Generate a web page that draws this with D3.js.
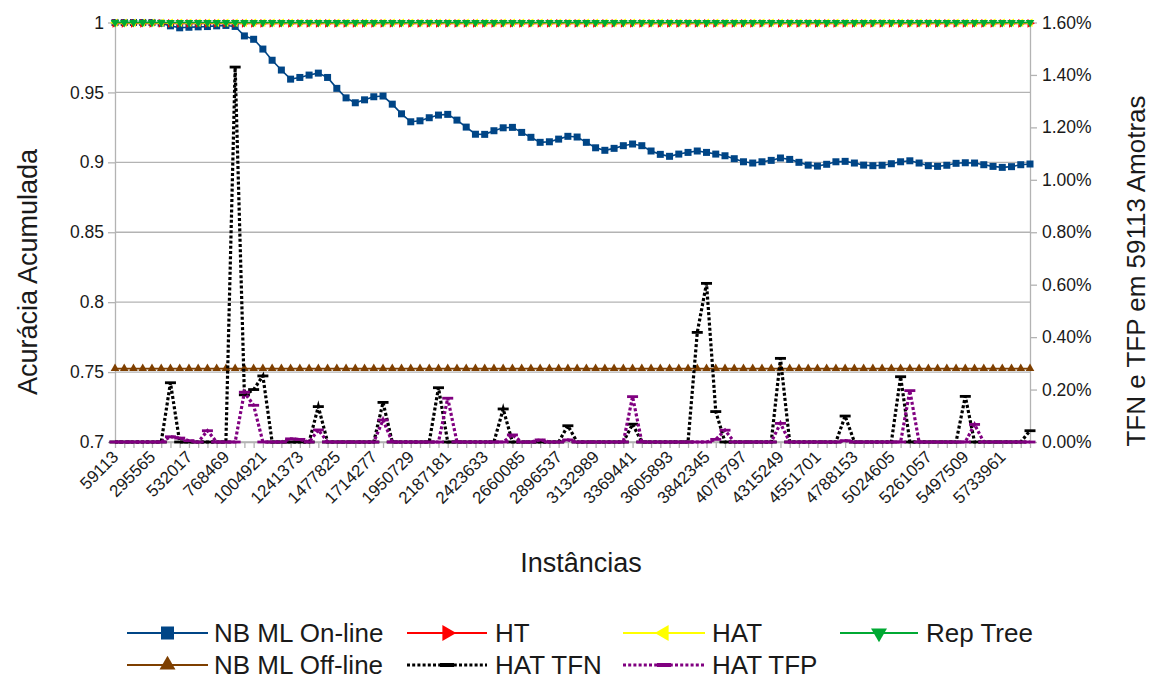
<!DOCTYPE html>
<html>
<head>
<meta charset="utf-8">
<script src="https://cdn.jsdelivr.net/npm/d3@7"></script>
<style>
  body { margin: 0; background: #fff; }
  text { font-family: "Liberation Sans", Arial, sans-serif; fill: #1a1a1a; }
</style>
</head>
<body>
<svg id="chart" width="1153" height="680"></svg>
<script>
// Instance counts (category axis)
const instances = [
  59113,118226,177339,236452,295565,354678,413791,472904,532017,591130,
  650243,709356,768469,827582,886695,945808,1004921,1064034,1123147,1182260,
  1241373,1300486,1359599,1418712,1477825,1536938,1596051,1655164,1714277,1773390,
  1832503,1891616,1950729,2009842,2068955,2128068,2187181,2246294,2305407,2364520,
  2423633,2482746,2541859,2600972,2660085,2719198,2778311,2837424,2896537,2955650,
  3014763,3073876,3132989,3192102,3251215,3310328,3369441,3428554,3487667,3546780,
  3605893,3665006,3724119,3783232,3842345,3901458,3960571,4019684,4078797,4137910,
  4197023,4256136,4315249,4374362,4433475,4492588,4551701,4610814,4669927,4729040,
  4788153,4847266,4906379,4965492,5024605,5083718,5142831,5201944,5261057,5320170,
  5379283,5438396,5497509,5556622,5615735,5674848,5733961,5793074,5852187,5911300
];

// Labelled categories on the x axis
const xTickLabels = [
  59113,295565,532017,768469,1004921,1241373,1477825,1714277,1950729,2187181,
  2423633,2660085,2896537,3132989,3369441,3605893,3842345,4078797,4315249,4551701,
  4788153,5024605,5261057,5497509,5733961
];

// Accumulated accuracy (left axis)
const nbOnline = [
  1,1,1,1,1,0.9995,0.9976,0.9962,0.9966,0.9969,
  0.9971,0.9976,0.9979,0.9972,0.9904,0.988,0.981,0.973,0.966,0.9595,
  0.9607,0.9624,0.9638,0.9607,0.9529,0.9461,0.9426,0.9447,0.9469,0.9474,
  0.9416,0.9347,0.929,0.9297,0.9319,0.9338,0.9343,0.9302,0.9252,0.9201,
  0.920,0.9226,0.9247,0.925,0.9214,0.9179,0.9143,0.9147,0.9166,0.9186,
  0.9181,0.9143,0.9104,0.9086,0.91,0.9119,0.9131,0.9119,0.9081,0.9057,
  0.9043,0.9059,0.9071,0.9081,0.9071,0.9059,0.9047,0.9026,0.9004,0.8995,
  0.9004,0.9014,0.9031,0.9021,0.9,0.898,0.8973,0.8986,0.9004,0.9007,
  0.8995,0.898,0.8976,0.8979,0.899,0.9004,0.9011,0.8995,0.8976,0.8971,
  0.8979,0.8993,0.8997,0.8995,0.8983,0.8971,0.8964,0.8969,0.8983,0.8988
];
const ht = [
  0.9994,0.9994,0.9994,0.9994,0.9994,0.9994,0.9994,0.9994,0.9994,0.9994,
  0.9994,0.9994,0.9994,0.9994,0.9994,0.9994,0.9994,0.9994,0.9994,0.9994,
  0.9994,0.9994,0.9994,0.9994,0.9994,0.9994,0.9994,0.9994,0.9994,0.9994,
  0.9994,0.9994,0.9994,0.9994,0.9994,0.9994,0.9994,0.9994,0.9994,0.9994,
  0.9994,0.9994,0.9994,0.9994,0.9994,0.9994,0.9994,0.9994,0.9994,0.9994,
  0.9994,0.9994,0.9994,0.9994,0.9994,0.9994,0.9994,0.9994,0.9994,0.9994,
  0.9994,0.9994,0.9994,0.9994,0.9994,0.9994,0.9994,0.9994,0.9994,0.9994,
  0.9994,0.9994,0.9994,0.9994,0.9994,0.9994,0.9994,0.9994,0.9994,0.9994,
  0.9994,0.9994,0.9994,0.9994,0.9994,0.9994,0.9994,0.9994,0.9994,0.9994,
  0.9994,0.9994,0.9994,0.9994,0.9994,0.9994,0.9994,0.9994,0.9994,0.9994
];
const hat = [
  0.9998,0.9998,0.9998,0.9998,0.9998,0.9998,0.9998,0.9998,0.9998,0.9998,
  0.9998,0.9998,0.9998,0.9998,0.9998,0.9998,0.9998,0.9998,0.9998,0.9998,
  0.9998,0.9998,0.9998,0.9998,0.9998,0.9998,0.9998,0.9998,0.9998,0.9998,
  0.9998,0.9998,0.9998,0.9998,0.9998,0.9998,0.9998,0.9998,0.9998,0.9998,
  0.9998,0.9998,0.9998,0.9998,0.9998,0.9998,0.9998,0.9998,0.9998,0.9998,
  0.9998,0.9998,0.9998,0.9998,0.9998,0.9998,0.9998,0.9998,0.9998,0.9998,
  0.9998,0.9998,0.9998,0.9998,0.9998,0.9998,0.9998,0.9998,0.9998,0.9998,
  0.9998,0.9998,0.9998,0.9998,0.9998,0.9998,0.9998,0.9998,0.9998,0.9998,
  0.9998,0.9998,0.9998,0.9998,0.9998,0.9998,0.9998,0.9998,0.9998,0.9998,
  0.9998,0.9998,0.9998,0.9998,0.9998,0.9998,0.9998,0.9998,0.9998,0.9998
];
const repTree = [
  1,1,1,1,1,1,1,1,1,1, 1,1,1,1,1,1,1,1,1,1,
  1,1,1,1,1,1,1,1,1,1, 1,1,1,1,1,1,1,1,1,1,
  1,1,1,1,1,1,1,1,1,1, 1,1,1,1,1,1,1,1,1,1,
  1,1,1,1,1,1,1,1,1,1, 1,1,1,1,1,1,1,1,1,1,
  1,1,1,1,1,1,1,1,1,1, 1,1,1,1,1,1,1,1,1,1
];
const nbOffline = [
  0.7525,0.7525,0.7525,0.7525,0.7525,0.7525,0.7525,0.7525,0.7525,0.7525,
  0.7525,0.7525,0.7525,0.7525,0.7525,0.7525,0.7525,0.7525,0.7525,0.7525,
  0.7525,0.7525,0.7525,0.7525,0.7525,0.7525,0.7525,0.7525,0.7525,0.7525,
  0.7525,0.7525,0.7525,0.7525,0.7525,0.7525,0.7525,0.7525,0.7525,0.7525,
  0.7525,0.7525,0.7525,0.7525,0.7525,0.7525,0.7525,0.7525,0.7525,0.7525,
  0.7525,0.7525,0.7525,0.7525,0.7525,0.7525,0.7525,0.7525,0.7525,0.7525,
  0.7525,0.7525,0.7525,0.7525,0.7525,0.7525,0.7525,0.7525,0.7525,0.7525,
  0.7525,0.7525,0.7525,0.7525,0.7525,0.7525,0.7525,0.7525,0.7525,0.7525,
  0.7525,0.7525,0.7525,0.7525,0.7525,0.7525,0.7525,0.7525,0.7525,0.7525,
  0.7525,0.7525,0.7525,0.7525,0.7525,0.7525,0.7525,0.7525,0.7525,0.7525
];

// False negative / false positive rates in percent (right axis)
const hatTFN = [
  0,0,0,0,0,0,0.226,0,0,0,
  0,0,0,1.43,0.18,0.20,0.252,0,0,0,
  0,0,0.135,0,0,0,0,0,0,0.151,
  0,0,0,0,0,0.207,0,0,0,0,
  0,0,0.126,0,0,0,0,0,0,0.062,
  0,0,0,0,0,0,0.068,0,0,0,
  0,0,0,0.418,0.605,0.116,0,0,0,0,
  0,0,0.319,0,0,0,0,0,0,0.099,
  0,0,0,0,0,0.249,0,0,0,0,
  0,0,0.174,0,0,0,0,0,0,0.043
];
const hatTFP = [
  0,0,0,0,0,0,0.02,0.015,0.005,0,
  0.043,0,0,0,0.19,0.14,0,0,0,0.012,
  0.01,0,0.046,0,0,0,0,0,0,0.084,
  0,0,0,0,0,0,0.167,0,0,0,
  0,0,0,0.027,0,0,0.008,0,0,0.008,
  0,0,0,0,0,0,0.173,0,0,0,
  0,0,0,0,0,0.01,0.045,0,0,0,
  0,0,0.071,0,0,0,0,0,0,0.005,
  0,0,0,0,0,0,0.196,0,0,0,
  0,0,0,0.067,0,0,0,0,0,0
];

const leftTicks = [0.7, 0.75, 0.8, 0.85, 0.9, 0.95, 1];
const rightTicks = [0, 0.2, 0.4, 0.6, 0.8, 1.0, 1.2, 1.4, 1.6];

const svg = d3.select("#chart");
svg.append("rect").attr("width", 1153).attr("height", 680).attr("fill", "#fff");

const plot = { left: 115, right: 1030, top: 22.5, bottom: 442 };
const gridColor = "#b3b3b3";
const fontStack = "Liberation Sans, Arial, sans-serif";

const x = d3.scalePoint().domain(instances).range([plot.left, plot.right]);
const yL = d3.scaleLinear().domain([0.7, 1]).range([plot.bottom, plot.top]);
const yR = d3.scaleLinear().domain([0, 1.6]).range([plot.bottom, plot.top]);

// horizontal grid on the accuracy axis
svg.append("g").selectAll("line").data(leftTicks).join("line")
  .attr("x1", plot.left).attr("x2", plot.right)
  .attr("y1", d => yL(d)).attr("y2", d => yL(d))
  .attr("stroke", gridColor).attr("stroke-width", 1.3);

function styleAxis(g) {
  g.select(".domain").attr("stroke", gridColor).attr("stroke-width", 1.3);
  g.selectAll(".tick line").attr("stroke", gridColor).attr("stroke-width", 1.3);
  g.selectAll("text").attr("fill", "#1a1a1a");
}

// left axis
svg.append("g").attr("transform", `translate(${plot.left},0)`)
  .call(d3.axisLeft(yL).tickValues(leftTicks).tickSize(7).tickSizeOuter(0).tickPadding(4)
    .tickFormat(d => String(+d.toFixed(2))))
  .call(styleAxis)
  .selectAll("text").style("font-size", "17.5px").style("font-family", fontStack);

// right axis
svg.append("g").attr("transform", `translate(${plot.right},0)`)
  .call(d3.axisRight(yR).tickValues(rightTicks).tickSize(7).tickSizeOuter(0).tickPadding(5)
    .tickFormat(d => d.toFixed(2) + "%"))
  .call(styleAxis)
  .selectAll("text").style("font-size", "17.5px").style("font-family", fontStack);

// bottom category axis
const xAxisG = svg.append("g").attr("transform", `translate(0,${plot.bottom})`)
  .call(d3.axisBottom(x).tickSize(6).tickSizeOuter(0)
    .tickFormat(d => xTickLabels.includes(d) ? String(d) : ""))
  .call(styleAxis);
xAxisG.selectAll("text")
  .style("font-size", "17px").style("font-family", fontStack)
  .attr("text-anchor", "end").attr("y", 0).attr("x", 0).attr("dy", null)
  .attr("transform", "translate(4,16) rotate(-45)");

// series
const series = [
  { name: "NB ML On-line", data: nbOnline, scale: yL, color: "#004586", marker: "square", dash: null, width: 1.6 },
  { name: "HT", data: ht, scale: yL, color: "#ff0000", marker: "right", dash: null, width: 1.6 },
  { name: "HAT", data: hat, scale: yL, color: "#ffff00", marker: "left", dash: null, width: 1.6 },
  { name: "Rep Tree", data: repTree, scale: yL, color: "#00a933", marker: "down", dash: null, width: 1.6 },
  { name: "NB ML Off-line", data: nbOffline, scale: yL, color: "#7e3f00", marker: "up", dash: null, width: 1.6 },
  { name: "HAT TFN", data: hatTFN, scale: yR, color: "#000000", marker: "bar", dash: "3,2.2", width: 3.2 },
  { name: "HAT TFP", data: hatTFP, scale: yR, color: "#800080", marker: "bar", dash: "3,2.2", width: 3.2 }
];

function drawMarker(g, type, color, cx, cy, big) {
  if (type === "square") {
    const s = big ? 13 : 7;
    g.append("rect").attr("x", cx - s / 2).attr("y", cy - s / 2).attr("width", s).attr("height", s).attr("fill", color);
  } else if (type === "bar") {
    const w = big ? 14 : 11, h = big ? 4 : 2.8;
    g.append("rect").attr("x", cx - w / 2).attr("y", cy - h / 2).attr("width", w).attr("height", h).attr("fill", color);
  } else {
    const rot = { up: 0, right: 90, down: 180, left: -90 }[type];
    const size = big ? 110 : 32;
    g.append("path").attr("d", d3.symbol(d3.symbolTriangle, size)())
      .attr("transform", `translate(${cx},${cy}) rotate(${rot})`).attr("fill", color);
  }
}

series.forEach(s => {
  const line = d3.line().x((d, i) => x(instances[i])).y(d => s.scale(d));
  const g = svg.append("g");
  g.append("path").datum(s.data).attr("d", line)
    .attr("fill", "none").attr("stroke", s.color).attr("stroke-width", s.width)
    .attr("stroke-dasharray", s.dash);
  s.data.forEach((d, i) => drawMarker(g, s.marker, s.color, x(instances[i]), s.scale(d), false));
});

// axis titles
svg.append("text").attr("transform", "translate(37,272) rotate(-90)")
  .attr("text-anchor", "middle").style("font-size", "27px").text("Acurácia Acumulada");
svg.append("text").attr("x", 581).attr("y", 572)
  .attr("text-anchor", "middle").style("font-size", "27px").text("Instâncias");
svg.append("text").attr("transform", "translate(1145,271) rotate(-90)")
  .attr("text-anchor", "middle").style("font-size", "26px").text("TFN e TFP em 59113 Amotras");

// legend
const legendItems = [
  { s: series[0], x1: 127, x2: 208, tx: 214, y: 633 },
  { s: series[1], x1: 407, x2: 487, tx: 495, y: 633 },
  { s: series[2], x1: 623, x2: 705, tx: 712, y: 633 },
  { s: series[3], x1: 840, x2: 918, tx: 926, y: 633 },
  { s: series[4], x1: 127, x2: 208, tx: 214, y: 665 },
  { s: series[5], x1: 407, x2: 487, tx: 495, y: 665 },
  { s: series[6], x1: 623, x2: 705, tx: 712, y: 665 }
];
const legend = svg.append("g");
legendItems.forEach(it => {
  const g = legend.append("g");
  g.append("line").attr("x1", it.x1).attr("x2", it.x2).attr("y1", it.y).attr("y2", it.y)
    .attr("stroke", it.s.color).attr("stroke-width", it.s.dash ? 3 : 2)
    .attr("stroke-dasharray", it.s.dash);
  drawMarker(g, it.s.marker, it.s.color, (it.x1 + it.x2) / 2, it.y, true);
  g.append("text").attr("x", it.tx).attr("y", it.y + 9).style("font-size", "26px").text(it.s.name);
});
</script>
</body>
</html>
